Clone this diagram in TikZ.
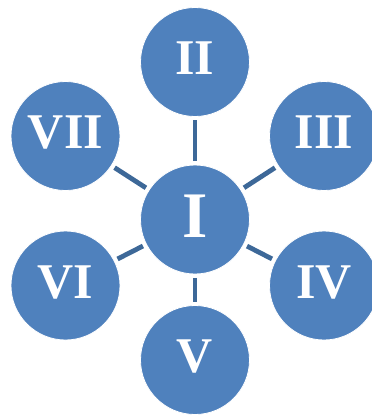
\documentclass[tikz,border=0pt]{standalone}
\usepackage{fontspec}
\setmainfont{Liberation Serif}
\definecolor{circfill}{HTML}{4F81BD}
\definecolor{linkcol}{HTML}{3D6898}
\begin{document}
\begin{tikzpicture}[x=1pt,y=-1pt,
  ball/.style={circle, fill=circfill, draw=white, line width=0.8pt, minimum size=109pt, inner sep=0pt,
     text=white, font=\bfseries\fontsize{50}{50}\selectfont, text depth=7pt},
  bigball/.style={ball, font=\bfseries\fontsize{65}{65}\selectfont},
  link/.style={draw=linkcol, line width=4.8pt, shorten <=3.5pt, shorten >=3.5pt}]
\useasboundingbox (0,0) rectangle (372,415);
\node[bigball] (I) at (195,219.5) {I};
\node[ball] (II) at (195,62) {II};
\node[ball] (III) at (324,136) {III};
\node[ball] (IV) at (324,285.5) {IV};
\node[ball] (V) at (195,360) {V};
\node[ball] (VI) at (65.5,285.5) {VI};
\node[ball] (VII) at (65.5,136) {VII};
\foreach \n in {II,III,IV,V,VI,VII} \draw[link] (I) -- (\n);
\end{tikzpicture}
\end{document}
